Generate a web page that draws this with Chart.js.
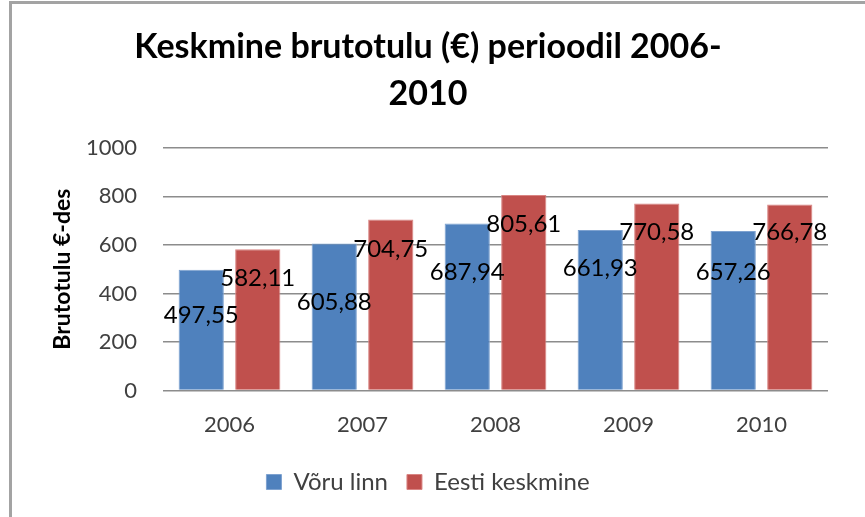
<!DOCTYPE html>
<html>
<head>
<meta charset="utf-8">
<script src="https://cdn.jsdelivr.net/npm/chart.js@4"></script>
<style>
  body { margin: 0; background: #fff; }
  #wrap { position: relative; width: 865px; height: 517px; overflow: hidden; }
  #frame { position: absolute; left: 9px; top: 1px; width: 900px; height: 600px;
    border-left: 3px solid #a3a3a3; border-top: 3px solid #a3a3a3; pointer-events: none; }
  canvas { position: absolute; left: 0; top: 0; }
</style>
</head>
<body>
<div id="wrap">
  <canvas id="chart" width="865" height="517"></canvas>
  <div id="frame"></div>
</div>
<script>
const years = ['2006', '2007', '2008', '2009', '2010'];
const voruLinn = [497.55, 605.88, 687.94, 661.93, 657.26];
const eestiKeskmine = [582.11, 704.75, 805.61, 770.58, 766.78];
const seriesNames = ['Võru linn', 'Eesti keskmine'];
const titleLines = ['Keskmine brutotulu (€) perioodil 2006-', '2010'];
const yTitle = 'Brutotulu €-des';

// label drop below bar top (px), the labels sit a bit lower on the blue bars
const labelDrop = [
  [45, 59, 49, 38, 41],
  [29, 30, 29, 29, 28],
];

const fmt = v => v.toFixed(2).replace('.', ',');

const valueLabels = {
  id: 'valueLabels',
  afterDatasetsDraw(chart) {
    const ctx = chart.ctx;
    ctx.save();
    ctx.font = '24px Lato';
    ctx.fillStyle = '#000';
    ctx.textAlign = 'center';
    ctx.textBaseline = 'middle';
    chart.data.datasets.forEach((ds, di) => {
      chart.getDatasetMeta(di).data.forEach((bar, i) => {
        ctx.fillText(fmt(ds.data[i]), bar.x, bar.y + labelDrop[di][i]);
      });
    });
    ctx.restore();
  },
};

new Chart(document.getElementById('chart'), {
  type: 'bar',
  data: {
    labels: years,
    datasets: [
      { label: seriesNames[0], data: voruLinn, backgroundColor: '#4f81bd', borderColor: '#7ea2d0', borderWidth: 1 },
      { label: seriesNames[1], data: eestiKeskmine, backgroundColor: '#c0504d', borderColor: '#d98583', borderWidth: 1 },
    ],
  },
  options: {
    responsive: false,
    animation: false,
    devicePixelRatio: 1,
    categoryPercentage: 0.85,
    barPercentage: 0.8,
    layout: { padding: { left: 28, right: 37, top: 0, bottom: 13 } },
    plugins: {
      title: {
        display: true,
        text: titleLines,
        color: '#000',
        font: { family: 'Lato', size: 34, weight: 'bold', lineHeight: 1.38 },
        padding: { top: 24, bottom: 30 },
      },
      legend: {
        position: 'bottom',
        labels: {
          color: '#404040',
          font: { family: 'Lato', size: 24 },
          boxWidth: 15,
          boxHeight: 15,
          padding: 19,
        },
      },
      tooltip: { enabled: false },
    },
    scales: {
      x: {
        grid: { display: false },
        border: { display: false },
        ticks: { color: '#404040', font: { family: 'Lato', size: 22 }, padding: 13 },
      },
      y: {
        min: 0,
        max: 1000,
        afterFit(scale) { scale.width = 135; },
        ticks: {
          stepSize: 200,
          color: '#404040',
          font: { family: 'Lato', size: 22 },
          padding: 26,
          callback: v => String(v),
        },
        grid: { color: '#8c8c8c', lineWidth: 1.5, drawTicks: false },
        border: { display: false },
        title: {
          display: true,
          text: yTitle,
          color: '#000',
          font: { family: 'Lato', size: 23, weight: 'bold' },
          padding: { top: 21, bottom: 0 },
        },
      },
    },
  },
  plugins: [valueLabels],
});
</script>
</body>
</html>
